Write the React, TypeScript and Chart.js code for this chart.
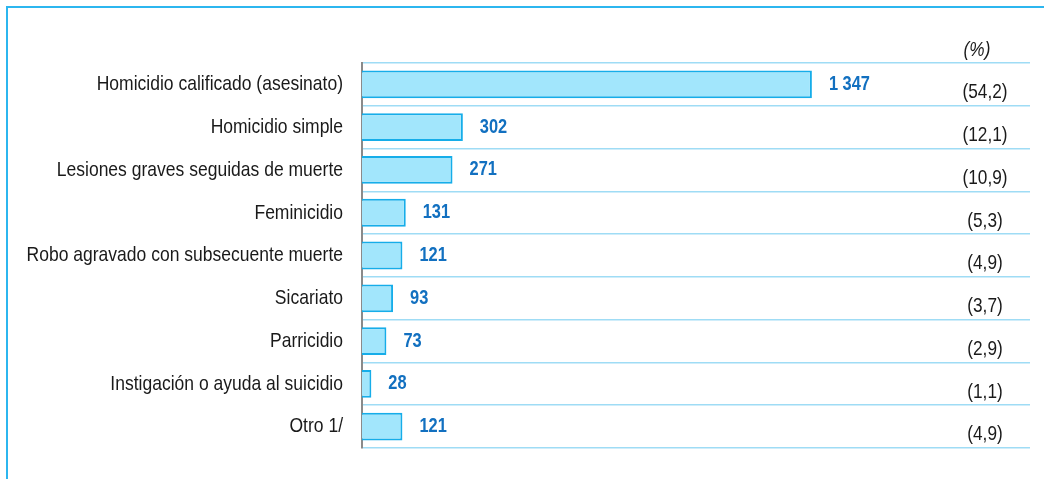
import React, { useEffect, useRef } from "react";
import { Chart, registerables } from "chart.js";

Chart.register(...registerables);

const categories = [
  "Homicidio calificado (asesinato)",
  "Homicidio simple",
  "Lesiones graves seguidas de muerte",
  "Feminicidio",
  "Robo agravado con subsecuente muerte",
  "Sicariato",
  "Parricidio",
  "Instigación o ayuda al suicidio",
  "Otro 1/",
];
const values = [1347, 302, 271, 131, 121, 93, 73, 28, 121];
const valueLabels = ["1 347", "302", "271", "131", "121", "93", "73", "28", "121"];
const percentLabels = ["(54,2)", "(12,1)", "(10,9)", "(5,3)", "(4,9)", "(3,7)", "(2,9)", "(1,1)", "(4,9)"];
const percentHeader = "(%)";

const FONT = '"Liberation Sans", Arial, sans-serif';

function narrowText(ctx: any, text: string, x: number, y: number, align: string, k: number) {
  ctx.save();
  ctx.translate(x, y);
  ctx.scale(k, 1);
  ctx.textAlign = align;
  ctx.textBaseline = "middle";
  ctx.fillText(text, 0, 0);
  ctx.restore();
}

const labelPlugin = {
  id: "labels",
  afterDraw(chart: any) {
    const ctx = chart.ctx;
    const meta = chart.getDatasetMeta(0);
    const area = chart.chartArea;
    const yScale = chart.scales.y;
    ctx.save();
    categories.forEach((c, i) => {
      const y = yScale.getPixelForValue(i);
      ctx.font = `21px ${FONT}`;
      ctx.fillStyle = "#1a1a1a";
      narrowText(ctx, c, area.left - 19, y, "right", 0.834);
    });
    meta.data.forEach((bar: any, i: number) => {
      ctx.font = `bold 20px ${FONT}`;
      ctx.fillStyle = "#1270c0";
      narrowText(ctx, valueLabels[i], bar.x + 17, bar.y, "left", 0.82);
      ctx.font = `21px ${FONT}`;
      ctx.fillStyle = "#1a1a1a";
      narrowText(ctx, percentLabels[i], area.right - 45, bar.y + 8, "center", 0.82);
    });
    ctx.font = `italic 21px ${FONT}`;
    ctx.fillStyle = "#1a1a1a";
    narrowText(ctx, percentHeader, area.right - 53, area.top - 13, "center", 0.82);
    ctx.restore();
  },
};

export default function App() {
  const ref = useRef<HTMLCanvasElement>(null);
  useEffect(() => {
    if (!ref.current) return;
    const chart = new Chart(ref.current, {
      type: "bar",
      data: {
        labels: categories,
        datasets: [
          {
            data: values,
            backgroundColor: "#a2e6fc",
            borderColor: "#16ade9",
            borderWidth: 2,
            barPercentage: 0.65,
            categoryPercentage: 1,
          },
        ],
      },
      options: {
        indexAxis: "y",
        animation: false,
        responsive: false,
        layout: { padding: { top: 63, bottom: 31, right: 14, left: 0 } },
        plugins: { legend: { display: false }, tooltip: { enabled: false } },
        scales: {
          x: { display: false, min: 0, max: 2000 },
          y: {
            afterFit: (s: any) => {
              s.width = 362;
            },
            grid: { color: "#9fdcf5", lineWidth: 1.5, drawTicks: false, offset: true },
            border: { color: "#8a8a8a", width: 2 },
            ticks: { display: false },
          },
        },
      },
      plugins: [labelPlugin],
    });
    return () => chart.destroy();
  }, []);
  return (
    <div style={{ position: "fixed", left: 0, top: 0, width: 1044, height: 479, background: "#fff" }}>
      <canvas ref={ref} width={1044} height={479} style={{ position: "absolute", left: 0, top: 0 }} />
      <div
        style={{
          position: "absolute",
          left: 6,
          top: 6,
          right: 0,
          bottom: 0,
          borderLeft: "2px solid #2cb6ef",
          borderTop: "2px solid #2cb6ef",
          pointerEvents: "none",
        }}
      />
    </div>
  );
}
